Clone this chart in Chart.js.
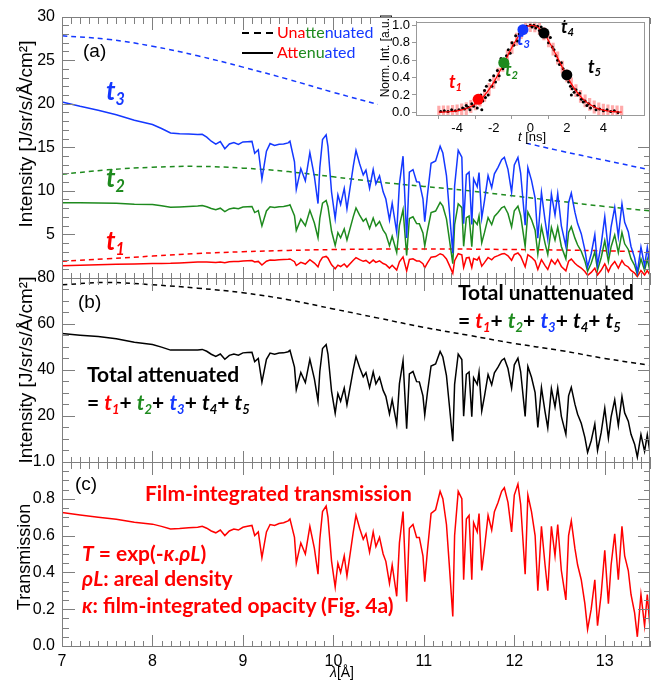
<!DOCTYPE html>
<html>
<head>
<meta charset="utf-8">
<script src="https://cdn.jsdelivr.net/npm/chart.js@4.4.1/dist/chart.umd.min.js"></script>
<style>
  body { margin: 0; background: #fff; }
  #wrap { position: relative; width: 663px; height: 681px; overflow: hidden; }
  canvas, svg.ov { position: absolute; }
  svg.top { z-index: 10; pointer-events: none; }
  .txt { position: absolute; white-space: nowrap; line-height: 1; font-family: Lato, "Open Sans", sans-serif; }
  .b { font-weight: 700; }
  .ti { font-style: italic; font-weight: 700; }
  .sub { font-size: 0.62em; position: relative; top: 0.3em; }
  .ax { font-family: "Liberation Sans", Arial, sans-serif; }
  .rot { position: absolute; white-space: nowrap; line-height: 1; transform: translate(-50%, -50%) rotate(-90deg); font-family: "Liberation Sans", Arial, sans-serif; }
</style>
</head>
<body>
<div id="wrap">
  <canvas id="main" width="663" height="681" style="left:0;top:0"></canvas>
  <canvas id="inset" width="272" height="131" style="left:378px;top:12px;background:#fff"></canvas>

  <!-- axis titles -->
  <div class="rot" style="left:25px;top:134px;font-size:19px">Intensity [J/sr/s/Å/cm²]</div>
  <div class="rot" style="left:25px;top:370px;font-size:19px">Intensity [J/sr/s/Å/cm²]</div>
  <div class="rot" style="left:24px;top:557px;font-size:18px">Transmission</div>
  <div class="txt ax" style="left:330px;top:665px;font-size:14px"><i>λ</i>[Å]</div>

  <!-- panel letters -->
  <div class="txt ax" style="left:83px;top:41px;font-size:19px">(a)</div>
  <div class="txt ax" style="left:78px;top:292px;font-size:19px">(b)</div>
  <div class="txt ax" style="left:75px;top:474px;font-size:19px">(c)</div>

  <!-- legend -->
  <svg class="ov" style="left:242px;top:28px" width="32" height="30">
    <line x1="0" y1="5" x2="31" y2="5" stroke="#000" stroke-width="2" stroke-dasharray="7,5"/>
    <line x1="0" y1="25" x2="31" y2="25" stroke="#000" stroke-width="2"/>
  </svg>
  <div class="txt" style="left:277px;top:24px;font-size:16px"><span style="color:#ff0000">Una</span><span style="color:#1e8a1e">tte</span><span style="color:#1438ff">nuated</span></div>
  <div class="txt" style="left:277px;top:44px;font-size:16px"><span style="color:#ff0000">Att</span><span style="color:#1e8a1e">enu</span><span style="color:#1438ff">ated</span></div>

  <!-- curve labels panel (a) -->
  <div class="txt ti" style="left:106px;top:77px;font-size:26px;color:#1438ff">t<span class="sub">3</span></div>
  <div class="txt ti" style="left:106px;top:164px;font-size:26px;color:#1e8a1e">t<span class="sub">2</span></div>
  <div class="txt ti" style="left:106px;top:227px;font-size:26px;color:#ff0000">t<span class="sub">1</span></div>

  <!-- panel (b) texts -->
  <div class="txt b" style="left:458px;top:281px;font-size:21px">Total unattenuated</div>
  <div class="txt b" style="left:458px;top:309px;font-size:21px">= <span class="ti" style="color:#ff0000">t<span class="sub">1</span></span>+ <span class="ti" style="color:#1e8a1e">t<span class="sub">2</span></span>+ <span class="ti" style="color:#1438ff">t<span class="sub">3</span></span>+ <span class="ti">t<span class="sub">4</span></span>+ <span class="ti">t<span class="sub">5</span></span></div>
  <div class="txt b" style="left:87px;top:363px;font-size:21px">Total attenuated</div>
  <div class="txt b" style="left:87px;top:391px;font-size:21px">= <span class="ti" style="color:#ff0000">t<span class="sub">1</span></span>+ <span class="ti" style="color:#1e8a1e">t<span class="sub">2</span></span>+ <span class="ti" style="color:#1438ff">t<span class="sub">3</span></span>+ <span class="ti">t<span class="sub">4</span></span>+ <span class="ti">t<span class="sub">5</span></span></div>

  <!-- panel (c) texts -->
  <div class="txt b" style="left:145px;top:482px;font-size:21px;color:#ff0000">Film-integrated transmission</div>
  <div class="txt b" style="left:82px;top:542px;font-size:21px;color:#ff0000"><i>T</i> = exp(-<i>κ</i>.<i>ρL</i>)</div>
  <div class="txt b" style="left:82px;top:567px;font-size:21px;color:#ff0000"><i>ρL</i>: areal density</div>
  <div class="txt b" style="left:82px;top:594px;font-size:21px;color:#ff0000"><i>κ</i>: film-integrated opacity (Fig. 4a)</div>

  <!-- inset texts -->
  <div class="rot" style="left:385px;top:56px;font-size:12px">Norm. Int. [a.u.]</div>
  <div class="txt ax" style="left:518px;top:130px;font-size:13px"><i>t</i> [ns]</div>
  <div class="txt ti" style="left:449px;top:72px;font-size:18px;color:#ff0000">t<span class="sub">1</span></div>
  <div class="txt ti" style="left:505px;top:60px;font-size:18px;color:#1e8a1e">t<span class="sub">2</span></div>
  <div class="txt ti" style="left:517px;top:29px;font-size:18px;color:#1438ff">t<span class="sub">3</span></div>
  <div class="txt ti" style="left:561px;top:17px;font-size:18px;color:#000">t<span class="sub">4</span></div>
  <div class="txt ti" style="left:588px;top:57px;font-size:18px;color:#000">t<span class="sub">5</span></div>

  <!-- frames and inward ticks, filled in from the chart scales -->
  <svg id="frames" class="ov top" width="663" height="681" style="left:0;top:0"></svg>
</div>

<script>
const RED = "#ff0000", GREEN = "#1e8a1e", BLUE = "#1438ff", FRAME = "#7f7f7f";

// --- wavelength grid (Å) for the attenuated spectra ---
const lam = [
  7.0, 7.2, 7.4, 7.6, 7.8, 8.0, 8.1, 8.2, 8.3, 8.4,
  8.5, 8.55, 8.6, 8.65, 8.7, 8.75, 8.8, 8.85, 8.9, 8.95,
  9.0, 9.05, 9.1, 9.13, 9.17, 9.21, 9.26, 9.3, 9.35, 9.4,
  9.45, 9.5, 9.52, 9.57, 9.59, 9.64, 9.69, 9.74, 9.79, 9.83,
  9.85, 9.88, 9.92, 9.94, 9.98, 10.02, 10.05, 10.08, 10.12, 10.15,
  10.22, 10.25, 10.29, 10.33, 10.36, 10.4, 10.44, 10.47, 10.51, 10.55,
  10.58, 10.62, 10.65, 10.7, 10.73, 10.77, 10.81, 10.84, 10.88, 10.92,
  10.95, 10.99, 11.01, 11.04, 11.08, 11.13, 11.18, 11.21, 11.25, 11.28,
  11.32, 11.34, 11.38, 11.42, 11.44, 11.47, 11.5, 11.53, 11.55, 11.59,
  11.61, 11.64, 11.67, 11.71, 11.75, 11.78, 11.82, 11.86, 11.89, 11.93,
  11.97, 12.0, 12.04, 12.07, 12.12, 12.15, 12.19, 12.23, 12.26, 12.3,
  12.34, 12.37, 12.41, 12.45, 12.48, 12.52, 12.57, 12.6, 12.63, 12.67,
  12.7, 12.74, 12.78, 12.81, 12.85, 12.89, 12.92, 12.96, 13.0, 13.04,
  13.07, 13.11, 13.15, 13.19, 13.22, 13.26, 13.29, 13.33, 13.36, 13.4,
  13.44, 13.47, 13.5
];

// panel (c) film-integrated transmission
const trans = [
  .725, .712, .70, .688, .672, .662, .65, .636, .638, .642,
  .645, .65, .64, .625, .615, .63, .60, .625, .635, .63,
  .645, .65, .655, .60, .62, .48, .62, .66, .655, .665,
  .67, .68, .69, .59, .45, .56, .50, .65, .53, .39,
  .58, .73, .76, .70, .46, .32, .45, .40, .49, .38,
  .62, .71, .64, .58, .61, .51, .62, .54, .59, .50,
  .46, .34, .44, .27, .56, .73, .24, .64, .66, .59,
  .59, .49, .35, .52, .72, .74, .84, .80, .66, .45,
  .16, .60, .84, .80, .36, .69, .71, .36, .67, .62,
  .72, .41, .53, .71, .63, .73, .78, .84, .86, .78,
  .62, .82, .88, .77, .39, .82, .73, .60, .30, .65,
  .44, .30, .65, .49, .66, .41, .25, .60, .68, .53,
  .44, .36, .23, .09, .20, .36, .11, .28, .52, .23,
  .44, .61, .36, .65, .49, .41, .28, .18, .05, .28,
  .11, .28, .10
];

// panel (a) attenuated t1, t2, t3
const t1Att = [
  1.38, 1.44, 1.50, 1.55, 1.60, 1.66, 1.66, 1.67, 1.71, 1.76,
  1.81, 1.83, 1.82, 1.79, 1.77, 1.83, 1.75, 1.84, 1.88, 1.88,
  1.94, 1.96, 1.98, 1.82, 1.89, 1.47, 1.91, 2.04, 2.03, 2.07,
  2.10, 2.14, 2.17, 1.86, 1.42, 1.78, 1.59, 2.08, 1.70, 1.26,
  1.87, 2.36, 2.46, 2.27, 1.50, 1.04, 1.46, 1.30, 1.60, 1.24,
  2.03, 2.32, 2.10, 1.90, 2.00, 1.68, 2.04, 1.78, 1.95, 1.65,
  1.52, 1.12, 1.45, 0.89, 1.85, 2.41, 0.79, 2.11, 2.18, 1.95,
  1.95, 1.62, 1.16, 1.72, 2.38, 2.44, 2.77, 2.64, 2.18, 1.49,
  0.53, 1.98, 2.77, 2.64, 1.19, 2.28, 2.34, 1.19, 2.21, 2.05,
  2.38, 1.35, 1.75, 2.34, 2.07, 2.39, 2.55, 2.74, 2.80, 2.54,
  2.02, 2.67, 2.86, 2.49, 1.26, 2.66, 2.36, 1.94, 0.97, 2.09,
  1.41, 0.96, 2.09, 1.57, 2.11, 1.31, 0.80, 1.91, 2.16, 1.67,
  1.39, 1.13, 0.72, 0.28, 0.63, 1.12, 0.34, 0.87, 1.61, 0.71,
  1.36, 1.88, 1.11, 1.99, 1.50, 1.25, 0.85, 0.55, 0.15, 0.85,
  0.33, 0.84, 0.30
];
const t2Att = [
  8.63, 8.62, 8.61, 8.57, 8.45, 8.41, 8.27, 8.10, 8.14, 8.20,
  8.26, 8.31, 8.17, 7.96, 7.82, 8.00, 7.61, 7.91, 8.03, 7.95,
  8.13, 8.16, 8.20, 7.50, 7.73, 5.97, 7.68, 8.16, 8.07, 8.17,
  8.20, 8.30, 8.40, 7.15, 5.45, 6.74, 5.99, 7.75, 6.29, 4.60,
  6.83, 8.57, 8.89, 8.17, 5.35, 3.71, 5.19, 4.60, 5.62, 4.34,
  7.03, 8.02, 7.20, 6.50, 6.81, 5.67, 6.86, 5.96, 6.48, 5.48,
  5.02, 3.70, 4.77, 2.92, 6.03, 7.83, 2.57, 6.82, 7.01, 6.24,
  6.22, 5.15, 3.67, 5.44, 7.50, 7.67, 8.67, 8.23, 6.77, 4.60,
  1.63, 6.10, 8.50, 8.06, 3.62, 6.92, 7.10, 3.59, 6.66, 6.13,
  7.11, 4.03, 5.19, 6.92, 6.11, 7.05, 7.50, 8.04, 8.20, 7.39,
  5.85, 7.71, 8.23, 7.18, 3.61, 7.56, 6.69, 5.47, 2.73, 5.88,
  3.96, 2.69, 5.79, 4.34, 5.82, 3.60, 2.18, 5.21, 5.88, 4.56,
  3.77, 3.06, 1.95, 0.76, 1.68, 3.00, 0.91, 2.31, 4.26, 1.88,
  3.58, 4.93, 2.90, 5.21, 3.91, 3.26, 2.21, 1.42, 0.39, 2.18,
  0.85, 2.16, 0.77
];
const t3Att = [
  20.2, 19.7, 19.25, 18.74, 18.09, 17.6, 17.15, 16.64, 16.55, 16.51,
  16.45, 16.49, 16.15, 15.69, 15.36, 15.66, 14.83, 15.37, 15.53, 15.33,
  15.61, 15.64, 15.67, 14.30, 14.71, 11.33, 14.55, 15.42, 15.21, 15.35,
  15.37, 15.50, 15.69, 13.33, 10.15, 12.55, 11.14, 14.38, 11.65, 8.53,
  12.66, 15.87, 16.43, 15.10, 9.83, 6.80, 9.52, 8.43, 10.27, 7.93,
  12.82, 14.63, 13.11, 11.82, 12.38, 10.29, 12.44, 10.79, 11.72, 9.88,
  9.05, 6.65, 8.57, 5.22, 10.79, 13.97, 4.57, 12.13, 12.43, 11.04,
  11.00, 9.08, 6.46, 9.56, 13.16, 13.42, 15.12, 14.33, 11.75, 7.97,
  2.82, 10.53, 14.65, 13.86, 6.22, 11.85, 12.14, 6.13, 11.37, 10.46,
  12.10, 6.86, 8.83, 11.75, 10.36, 11.95, 12.69, 13.57, 13.84, 12.46,
  9.85, 12.96, 13.82, 12.04, 6.05, 12.66, 11.20, 9.15, 4.55, 9.80,
  6.59, 4.47, 9.63, 7.21, 9.67, 5.97, 3.61, 8.63, 9.73, 7.54,
  6.23, 5.07, 3.22, 1.25, 2.77, 4.95, 1.50, 3.81, 7.02, 3.08,
  5.87, 8.09, 4.74, 8.50, 6.38, 5.30, 3.60, 2.30, 0.64, 3.53,
  1.38, 3.49, 1.24
];
// panel (b) total attenuated
const totAtt = [
  55.8, 55.1, 54.5, 53.5, 52.0, 51.0, 49.9, 48.6, 48.6, 48.7,
  48.7, 48.9, 48.1, 46.8, 45.9, 46.9, 44.6, 46.3, 46.9, 46.4,
  47.4, 47.6, 47.7, 43.6, 45.0, 34.7, 44.6, 47.3, 46.8, 47.3,
  47.4, 47.9, 48.5, 41.2, 31.4, 38.9, 34.5, 44.6, 36.1, 26.5,
  39.3, 49.3, 51.0, 46.9, 30.7, 21.2, 29.7, 26.4, 32.1, 24.8,
  40.1, 45.8, 41.0, 37.0, 38.8, 32.3, 39.1, 33.9, 36.8, 31.1,
  28.5, 20.9, 27.0, 16.4, 34.0, 44.0, 14.4, 38.3, 39.3, 34.9,
  34.8, 28.7, 20.4, 30.3, 41.7, 42.6, 48.0, 45.6, 37.5, 25.4,
  9.0, 33.7, 46.9, 44.5, 19.9, 38.1, 39.1, 19.7, 36.6, 33.7,
  39.0, 22.1, 28.5, 38.0, 33.5, 38.7, 41.2, 44.1, 45.0, 40.6,
  32.1, 42.2, 45.1, 39.3, 19.8, 41.5, 36.8, 30.1, 15.0, 32.3,
  21.8, 14.8, 31.9, 23.9, 32.1, 19.8, 12.0, 28.7, 32.4, 25.1,
  20.7, 16.8, 10.7, 4.2, 9.2, 16.5, 5.0, 12.7, 23.4, 10.3,
  19.6, 27.0, 15.8, 28.4, 21.3, 17.7, 12.0, 7.7, 2.1, 11.9,
  4.6, 11.8, 4.2
];

// --- unattenuated (smooth, dashed) curves ---
const lamU = [7, 7.5, 8, 8.5, 9, 9.5, 10, 10.5, 11, 11.5, 12, 12.5, 13, 13.5];
const t1Un = [1.9, 2.2, 2.5, 2.8, 3.0, 3.15, 3.25, 3.3, 3.3, 3.3, 3.25, 3.2, 3.1, 3.0];
const t2Un = [11.9, 12.4, 12.7, 12.8, 12.6, 12.2, 11.6, 11.0, 10.5, 10.0, 9.4, 8.8, 8.2, 7.7];
const t3Un = [27.8, 27.4, 26.6, 25.5, 24.2, 22.8, 21.3, 19.9, 18.5, 17.1, 15.8, 14.6, 13.5, 12.4];
const totUn = [77, 78, 77, 75.5, 73.5, 70.5, 66.5, 62.5, 58.5, 55, 51.5, 48.5, 45, 42];

// --- tick labels ---
const xTicks = [7, 8, 9, 10, 11, 12, 13];
const ticksA = [5, 10, 15, 20, 25, 30];
const ticksB = [20, 40, 60, 80];
const ticksC = [0, 0.2, 0.4, 0.6, 0.8, 1.0];

// --- inset: time profile ---
const fitT = [-5, -4.75, -4.5, -4.25, -4, -3.75, -3.5, -3.25, -3, -2.75,
  -2.5, -2.25, -2, -1.75, -1.5, -1.25, -1, -0.75, -0.5, -0.25,
  0, 0.25, 0.5, 0.75, 1, 1.25, 1.5, 1.75, 2, 2.25,
  2.5, 2.75, 3, 3.25, 3.5, 3.75, 4, 4.25, 4.5, 4.75, 5];
const fitV = [0.002, 0.004, 0.006, 0.011, 0.017, 0.028, 0.044, 0.067, 0.099, 0.141,
  0.196, 0.264, 0.345, 0.438, 0.54, 0.645, 0.747, 0.84, 0.917, 0.971,
  0.998, 0.995, 0.962, 0.903, 0.823, 0.727, 0.624, 0.519, 0.419, 0.328,
  0.25, 0.184, 0.132, 0.092, 0.062, 0.040, 0.026, 0.016, 0.009, 0.0055, 0.003];
const errBar = 0.07;
const dotT = [-4.9, -4.7, -4.5, -4.3, -4.1, -3.9, -3.7, -3.6, -3.5, -3.4,
  -3.3, -3.2, -3.1, -3.0, -2.9, -2.75, -2.7, -2.65, -2.6, -2.5,
  -2.45, -2.4, -2.3, -2.2, -2.1, -2.0, -1.9, -1.8, -1.7, -1.6,
  -1.5, -1.3, -1.2, -1.1, -1.0, -0.9, -0.8, -0.7, -0.6, -0.5,
  -0.3, -0.2, 0.0, 0.1, 0.2, 0.3, 0.4, 0.5, 0.6, 0.9,
  1.0, 1.1, 1.2, 1.3, 1.4, 1.5, 1.6, 1.7, 1.8, 1.9,
  2.1, 2.2, 2.25, 2.3, 2.4, 2.5, 2.6, 2.7, 2.8, 2.9,
  3.0, 3.1, 3.2, 3.3, 3.5, 3.6, 3.8, 4.0, 4.2, 4.4, 4.6, 4.8];
const dotV = [0.01, 0.02, 0.01, 0.03, 0.02, 0.03, 0.05, 0.04, 0.08, 0.06,
  0.03, 0.10, 0.07, 0.12, 0.05, 0.17, 0.20, 0.03, 0.13, 0.25,
  0.17, 0.30, 0.20, 0.37, 0.30, 0.42, 0.35, 0.48, 0.42, 0.62,
  0.50, 0.65, 0.72, 0.68, 0.80, 0.77, 0.88, 0.82, 0.90, 0.93,
  0.97, 0.99, 1.00, 0.98, 1.00, 0.97, 0.99, 0.94, 0.98, 0.87,
  0.80, 0.86, 0.75, 0.72, 0.65, 0.60, 0.55, 0.57, 0.50, 0.47,
  0.35, 0.30, 0.20, 0.27, 0.23, 0.26, 0.20, 0.22, 0.15, 0.12,
  0.13, 0.08, 0.10, 0.05, 0.07, 0.03, 0.04, 0.02, 0.03, 0.01, 0.02, 0.00];
const markT = [-2.85, -1.45, -0.4, 0.75, 2.0];
const markV = [0.15, 0.57, 0.95, 0.91, 0.43];
const markColors = [RED, GREEN, BLUE, "#000", "#000"];
const insetXTicks = [-4, -2, 0, 2, 4];
const insetYTicks = [0, 0.2, 0.4, 0.6, 0.8, 1.0];

const pts = (xs, ys) => xs.map((x, i) => ({ x: x, y: ys[i] }));

function spectrum(data, color, axis, dashed) {
  return {
    data: data,
    borderColor: color,
    borderWidth: 1.5,
    borderDash: dashed ? [5, 4] : [],
    yAxisID: axis,
    pointRadius: 0,
    fill: false,
    tension: dashed ? 0.4 : 0,
  };
}

function yScale(min, max, ticks, weight, stackWeight, fmt) {
  return {
    type: "linear",
    position: "left",
    stack: "panels",
    stackWeight: stackWeight,
    weight: weight,
    min: min,
    max: max,
    afterBuildTicks: (s) => { s.ticks = ticks.map((v) => ({ value: v })); },
    afterFit: (s) => { s.width = 62; },
    grid: { display: false, drawTicks: false },
    border: { display: false },
    ticks: {
      autoSkip: false,
      color: "#000",
      font: { family: "Liberation Sans", size: 16 },
      padding: 7,
      callback: fmt || ((v) => v),
    },
  };
}

const mainChart = new Chart(document.getElementById("main"), {
  type: "line",
  data: {
    datasets: [
      spectrum(pts(lam, t3Att), BLUE, "yA"),
      spectrum(pts(lam, t2Att), GREEN, "yA"),
      spectrum(pts(lam, t1Att), RED, "yA"),
      spectrum(pts(lamU, t3Un), BLUE, "yA", true),
      spectrum(pts(lamU, t2Un), GREEN, "yA", true),
      spectrum(pts(lamU, t1Un), RED, "yA", true),
      spectrum(pts(lam, totAtt), "#000", "yB"),
      spectrum(pts(lamU, totUn), "#000", "yB", true),
      spectrum(pts(lam, trans), RED, "yC"),
    ],
  },
  options: {
    responsive: false,
    animation: false,
    layout: { padding: { left: 0, right: 13, top: 10, bottom: 0 } },
    plugins: { legend: { display: false }, tooltip: { enabled: false } },
    scales: {
      x: {
        type: "linear",
        min: 7,
        max: 13.5,
        afterBuildTicks: (s) => { s.ticks = xTicks.map((v) => ({ value: v })); },
        afterFit: (s) => { s.height = 35; },
        grid: { display: false, drawTicks: false },
        border: { display: false },
        ticks: { autoSkip: false, color: "#000", font: { family: "Liberation Sans", size: 16 }, padding: 6, maxRotation: 0 },
      },
      yC: yScale(0, 1, ticksC, 1, 186, (v) => v.toFixed(1)),
      yB: yScale(0, 80, ticksB, 2, 186),
      yA: yScale(0, 30, ticksA, 3, 264),
    },
  },
});

// --- inset ---
const insetChart = new Chart(document.getElementById("inset"), {
  type: "scatter",
  data: {
    datasets: [
      { type: "scatter", data: pts(markT, markV), pointRadius: 5.5, pointBackgroundColor: markColors, pointBorderWidth: 0, order: 0 },
      { type: "line", data: pts(fitT, fitV), borderColor: RED, borderWidth: 1.2, pointRadius: 0, tension: 0.3, order: 1 },
      { type: "scatter", data: pts(dotT, dotV), pointRadius: 1.5, pointBackgroundColor: "#000", pointBorderWidth: 0, order: 2 },
      {
        type: "bar",
        data: fitT.map((t, i) => ({ x: t, y: [fitV[i] - errBar, fitV[i] + errBar] })),
        backgroundColor: "rgba(255,100,100,0.55)",
        barThickness: 2.5,
        order: 3,
      },
    ],
  },
  options: {
    responsive: false,
    animation: false,
    layout: { padding: { left: 0, right: 3, top: 2, bottom: 0 } },
    plugins: { legend: { display: false }, tooltip: { enabled: false } },
    scales: {
      x: {
        type: "linear",
        min: -5,
        max: 5,
        afterBuildTicks: (s) => { s.ticks = insetXTicks.map((v) => ({ value: v })); },
        afterFit: (s) => { s.height = 28; },
        grid: { drawOnChartArea: false, tickLength: 4, color: "#999" },
        border: { color: "#999" },
        ticks: { autoSkip: false, color: "#000", font: { family: "Liberation Sans", size: 13 }, padding: 2, maxRotation: 0 },
      },
      y: {
        type: "linear",
        min: -0.03,
        max: 1.04,
        afterBuildTicks: (s) => { s.ticks = insetYTicks.map((v) => ({ value: v })); },
        afterFit: (s) => { s.width = 38; },
        grid: { drawOnChartArea: false, tickLength: 4, color: "#999" },
        border: { color: "#999" },
        ticks: { autoSkip: false, color: "#000", font: { family: "Liberation Sans", size: 13 }, padding: 2, callback: (v) => v.toFixed(1) },
      },
    },
  },
});

// --- frames and inward ticks, placed from the charts' own scales ---
const NS = "http://www.w3.org/2000/svg";
function addPath(d, color) {
  const p = document.createElementNS(NS, "path");
  p.setAttribute("d", d);
  p.setAttribute("stroke", color);
  p.setAttribute("stroke-width", "1");
  p.setAttribute("fill", "none");
  p.setAttribute("shape-rendering", "crispEdges");
  document.getElementById("frames").appendChild(p);
}

(function drawFrames(chart) {
  const x = chart.scales.x;
  const l = Math.round(x.left) + 0.5, r = Math.round(x.right) - 0.5;
  let d = "";
  [["yA", 1, 5], ["yB", 5, 20], ["yC", 0.05, 0.2]].forEach(([id, minor, major]) => {
    const s = chart.scales[id];
    const top = Math.round(s.top) + 0.5, bot = Math.round(s.bottom) + 0.5;
    d += `M${l} ${top}H${r}V${bot}H${l}Z`;
    for (let i = 0; i <= 65; i++) {
      const px = Math.round(x.getPixelForValue(7 + i / 10)) + 0.5;
      // the inset hides the top ticks of panel (a) under it
      const hidden = id === "yA" && px > 378 && px < 650;
      const len = i % 10 === 0 ? 12 : 6;
      if (!hidden) d += `M${px} ${top}v${len}`;
      d += `M${px} ${bot}v${-len}`;
    }
    const n = Math.round((s.max - s.min) / minor);
    for (let j = 0; j <= n; j++) {
      const v = s.min + j * minor;
      const py = Math.round(s.getPixelForValue(v)) + 0.5;
      const len = Math.abs(v / major - Math.round(v / major)) < 1e-6 ? 12 : 6;
      d += `M${l} ${py}h${len}`;
      if (!(id === "yA" && py < 143)) d += `M${r} ${py}h${-len}`;
    }
  });
  addPath(d, FRAME);
})(mainChart);

(function drawInsetBox(chart) {
  const a = chart.chartArea;
  const ox = 378, oy = 12;
  const l = Math.round(a.left + ox) + 0.5, r = Math.round(a.right + ox) - 0.5;
  const t = Math.round(a.top + oy) + 0.5, b = Math.round(a.bottom + oy) + 0.5;
  addPath(`M${l} ${t}H${r}V${b}H${l}Z`, "#999");
})(insetChart);
</script>
</body>
</html>
